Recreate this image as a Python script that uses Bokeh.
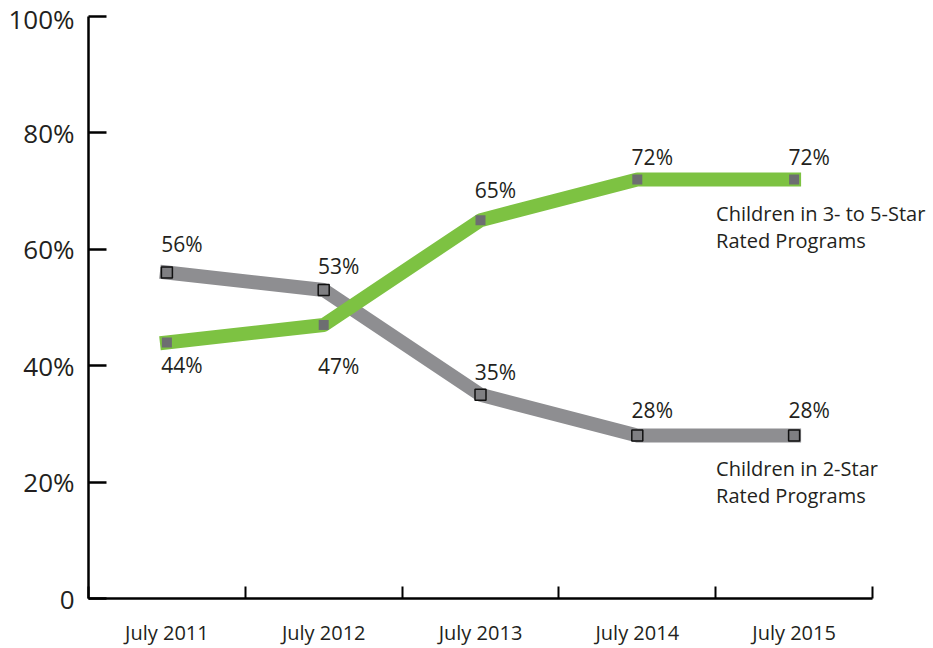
from bokeh.plotting import figure
from bokeh.models import ColumnDataSource, FixedTicker, Range1d, Label
from bokeh.embed import file_html
from bokeh.resources import INLINE
from bokeh.core.properties import value

# ---- data ----
periods = ["July 2011", "July 2012", "July 2013", "July 2014", "July 2015"]
stars_3to5 = [44, 47, 65, 72, 72]
stars_2 = [56, 53, 35, 28, 28]
y_ticks = [0, 20, 40, 60, 80, 100]
y_tick_labels = ["0", "20%", "40%", "60%", "80%", "100%"]
label_3to5 = ["Children in 3- to 5-Star", "Rated Programs"]
label_2 = ["Children in 2-Star", "Rated Programs"]

FONT = "Open Sans"
GREEN = "#7dc242"
GREY = "#8e8e91"
TXT = "#231f20"

xs = list(range(1, len(periods) + 1))
n = len(periods)

# frame: axis spans x 88..872 px; frame continues to the right edge so the
# right-hand labels are not clipped
x_end = 0.5 + n * (930 - 88) / (872 - 88)

p = figure(width=930, height=648, output_backend="svg", toolbar_location=None,
           x_range=Range1d(0.5, x_end), y_range=Range1d(0, 100),
           min_border_left=88, min_border_right=0, min_border_top=16, min_border_bottom=48)
p.outline_line_color = None
p.grid.visible = False
p.background_fill_color = "white"
p.border_fill_color = "white"

green_src = ColumnDataSource(dict(x=xs, y=stars_3to5, lab=[f"{v}%" for v in stars_3to5],
                                  yo=[23, 41, -30, -22, -22]))
grey_src = ColumnDataSource(dict(x=xs, y=stars_2, lab=[f"{v}%" for v in stars_2],
                                 yo=[-29, -24, -23, -26, -26]))

p.line("x", "y", source=grey_src, line_color=GREY, line_width=14, line_cap="square", line_join="round")
p.line("x", "y", source=green_src, line_color=GREEN, line_width=14, line_cap="square", line_join="round")
p.scatter("x", "y", source=grey_src, marker="square", size=11, fill_color="#7f7f82",
          line_color="#111111", line_width=1.5)
p.scatter("x", "y", source=green_src, marker="square", size=10, fill_color="#6d6e71",
          line_color=None)

for src in (grey_src, green_src):
    p.text("x", "y", text="lab", source=src, x_offset=15, y_offset="yo",
           text_align="center", text_baseline="middle", text_font=value(FONT),
           text_font_size="21px", text_color=TXT)

for i, t in enumerate(label_3to5):
    p.add_layout(Label(x=xs[-1], y=stars_3to5[-1], x_offset=-78, y_offset=-34 - 27 * i, text=t,
                       text_font=FONT, text_font_size="20px", text_color=TXT,
                       text_baseline="middle"))
for i, t in enumerate(label_2):
    p.add_layout(Label(x=xs[-1], y=stars_2[-1], x_offset=-78, y_offset=-33 - 27 * i, text=t,
                       text_font=FONT, text_font_size="20px", text_color=TXT,
                       text_baseline="middle"))

# axes
xa = p.xaxis[0]
xa.bounds = (0.5, n + 0.5)
xa.ticker = FixedTicker(ticks=xs, minor_ticks=[x - 0.5 for x in xs] + [xs[-1] + 0.5])
xa.major_label_overrides = {x: lab for x, lab in zip(xs, periods)}
xa.major_tick_line_color = None
xa.minor_tick_in = 12
xa.minor_tick_out = 0
xa.minor_tick_line_color = "black"
xa.minor_tick_line_width = 2
xa.axis_line_width = 2.5
xa.axis_line_color = "black"
xa.major_label_text_font = FONT
xa.major_label_text_font_size = "20px"
xa.major_label_text_color = TXT
xa.major_label_standoff = 14

ya = p.yaxis[0]
ya.ticker = FixedTicker(ticks=y_ticks, minor_ticks=[])
ya.major_label_overrides = {t: lab for t, lab in zip(y_ticks, y_tick_labels)}
ya.major_tick_in = 18
ya.major_tick_out = 0
ya.major_tick_line_width = 2.5
ya.major_tick_line_color = "black"
ya.axis_line_width = 2.5
ya.axis_line_color = "black"
ya.major_label_text_font = FONT
ya.major_label_text_font_size = "26px"
ya.major_label_text_color = TXT
ya.major_label_standoff = 14

open("out.html", "w").write(file_html(p, INLINE))
